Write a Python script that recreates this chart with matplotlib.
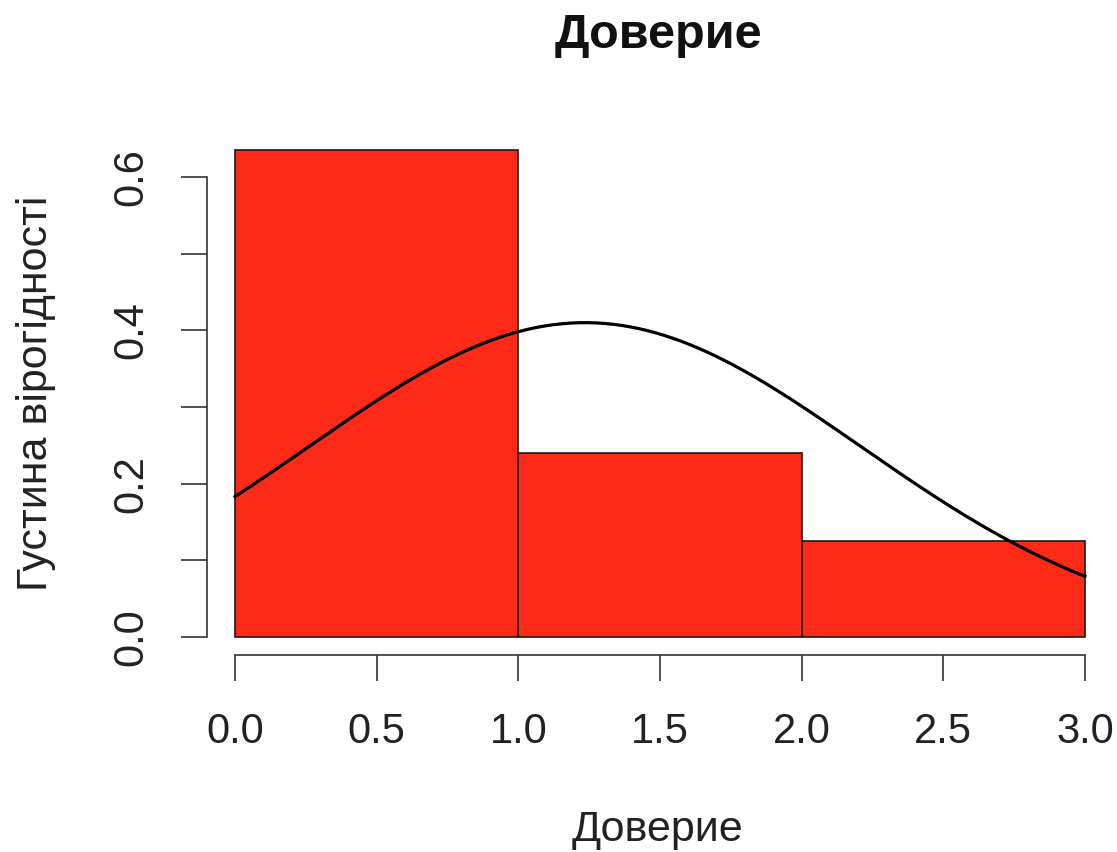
import numpy as np
import matplotlib.pyplot as plt

plt.rcParams['font.family'] = ['Liberation Sans', 'DejaVu Sans']

# histogram (density scale) and the fitted normal curve
bin_edges = [0.0, 1.0, 2.0, 3.0]
densities = [0.635, 0.240, 0.125]
fit_mean = 1.235
fit_sd = 0.973

x_ticks = [0.0, 0.5, 1.0, 1.5, 2.0, 2.5, 3.0]
x_labels = ['0.0', '0.5', '1.0', '1.5', '2.0', '2.5', '3.0']
y_ticks = [0.0, 0.1, 0.2, 0.3, 0.4, 0.5, 0.6]
y_labels = ['0.0', '', '0.2', '', '0.4', '', '0.6']

W, H = 1117, 852
fig = plt.figure(figsize=(W / 100, H / 100), dpi=100)
ax = fig.add_axes([235 / W, (H - 637) / H, 850 / W, 460 / H])

lefts = bin_edges[:-1]
widths = np.diff(bin_edges)
ax.bar(lefts, densities, width=widths, align='edge', color='#fc2a16',
       edgecolor='#1a1a1a', linewidth=1.2, clip_on=False)

xs = np.linspace(bin_edges[0], bin_edges[-1], 300)
ys = np.exp(-(xs - fit_mean) ** 2 / (2 * fit_sd ** 2)) / (fit_sd * np.sqrt(2 * np.pi))
ax.plot(xs, ys, color='black', linewidth=2.3, clip_on=False)

ax.set_xlim(0, 3)
ax.set_ylim(0, 0.6)

for side in ('top', 'right'):
    ax.spines[side].set_visible(False)
ax.spines['left'].set_position(('outward', 20))
ax.spines['bottom'].set_position(('outward', 13))
ax.spines['left'].set_bounds(0, 0.6)
ax.spines['bottom'].set_bounds(0, 3)
for side in ('left', 'bottom'):
    ax.spines[side].set_linewidth(1.2)
    ax.spines[side].set_color('#333333')

ax.set_xticks(x_ticks, x_labels)
ax.set_yticks(y_ticks, y_labels)
ax.tick_params(axis='both', length=19, width=1.2, color='#333333',
               labelsize=30, labelcolor='#222222')
ax.tick_params(axis='x', pad=22)
ax.tick_params(axis='y', pad=21)
for lbl in ax.get_yticklabels():
    lbl.set_rotation(90)
    lbl.set_va('center')

fig.text(658 / W, 1 - 36 / H, 'Доверие', ha='center', va='center',
         fontsize=35, fontweight='bold', color='#111111')
fig.text(657 / W, 1 - 830 / H, 'Доверие', ha='center', va='center',
         fontsize=31, color='#222222')
fig.text(36 / W, 1 - 393 / H, 'Густина вірогідності', ha='center', va='center',
         rotation=90, fontsize=31, color='#222222')

fig.savefig('out.png', dpi=100)
